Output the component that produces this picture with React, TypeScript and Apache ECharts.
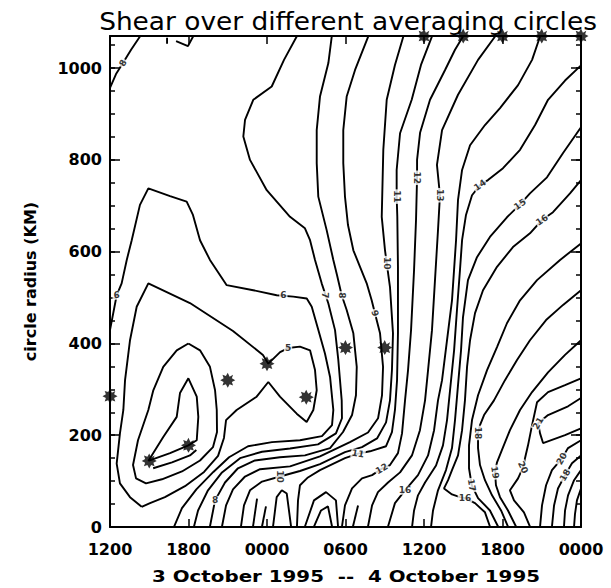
import React, { useEffect, useRef } from "react";
import * as echarts from "echarts";

// ---- axis tick labels ----
const timeTickLabels = ["1200", "1800", "0000", "0600", "1200", "1800", "0000"];

// ---- asterisk markers: hours since 1200 UTC 3 Oct, radius km ----
const asteriskHours = [0, 3, 6, 9, 12, 15, 18, 21, 24, 27, 30, 33, 36];
const asteriskRadii = [285, 144, 178, 320, 356, 283, 391, 391, 1070, 1070, 1070, 1070, 1070];

// ---- contour polylines [hour, radius km] ----
const topLeftA = [[0, 957], [0.46, 987], [0.99, 1011], [1.61, 1040], [2.29, 1069]];
const topLeftB = [[5.05, 1059], [5.96, 1048], [6.35, 1069]];
const topLeftC = [[4.36, 1066], [4.36, 1053]];

const contour6 = [[0, 429], [0.51, 505], [0.89, 531], [1.28, 582], [1.66, 625], [2.29, 702], [2.93, 738], [4.59, 721], [5.86, 709], [6.34, 680], [6.88, 625], [7.64, 582], [8.92, 527], [10.95, 516], [12.74, 505], [14.01, 502], [15.04, 498], [15.42, 480], [15.93, 429], [16.43, 378], [16.82, 327], [17.07, 255], [16.97, 222], [16.2, 198], [14.52, 189], [12.38, 185], [10.55, 176], [9.1, 152], [7.9, 120], [6.6, 82], [5.5, 41], [4.9, 1]];
const contour5 = [[2.42, 44], [1.53, 65], [0.76, 95], [0.51, 138], [0.76, 204], [1.02, 255], [1.15, 320], [1.53, 407], [2.04, 480], [2.93, 531], [6.11, 488], [9.4, 427], [11.69, 375], [12.1, 356], [13.0, 381], [13.61, 390], [14.52, 393], [15.29, 385], [15.67, 342], [15.8, 298], [15.54, 255], [15.03, 229], [14.27, 247], [12.99, 284], [12.1, 316], [11.21, 284], [9.68, 255], [8.87, 233], [8.71, 194], [8.26, 155], [7.19, 120], [5.73, 89], [4.2, 65], [3.06, 52], [2.42, 44]];
const contour4 = [[5.99, 400], [6.88, 385], [7.64, 349], [8.03, 298], [8.16, 255], [8.18, 207], [7.87, 174], [6.88, 145], [5.5, 121], [3.97, 104], [2.75, 95], [1.99, 106], [1.76, 135], [2.14, 189], [2.93, 255], [3.31, 298], [4.07, 349], [5.1, 385], [5.99, 400]];
const contour3 = [[2.93, 144], [3.19, 156], [4.07, 196], [5.1, 240], [5.35, 292], [5.99, 324], [6.63, 284], [6.75, 240], [6.63, 189], [5.99, 178], [4.59, 161], [2.93, 144]];
const contour2 = [[3.3, 128], [4.74, 141], [6.11, 156], [6.6, 168]];

const contour7 = [[14.27, 1069], [13.3, 1018], [12.36, 960], [10.95, 931], [10.32, 887], [10.19, 851], [10.7, 800], [11.98, 734], [13.76, 676], [14.9, 651], [15.29, 625], [15.67, 582], [16.18, 531], [16.69, 487], [17.2, 429], [17.45, 364], [17.71, 276], [17.73, 237], [17.27, 204], [15.9, 180], [13.76, 171], [11.62, 164], [9.94, 150], [8.56, 119], [7.49, 80], [6.73, 36], [6.42, 1]];
const contour8 = [[16.95, 1069], [16.69, 1011], [16.05, 938], [15.8, 865], [15.8, 793], [15.92, 720], [16.56, 647], [17.07, 582], [17.35, 549], [17.71, 505], [18.09, 473], [18.6, 422], [18.86, 349], [18.8, 287], [18.5, 244], [17.81, 207], [16.82, 172], [14.9, 156], [12.99, 152], [11.08, 145], [9.78, 128], [8.79, 97], [8.03, 58], [7.64, 1]];
const contour9 = [[19.74, 1069], [18.73, 996], [18.09, 938], [17.83, 865], [17.83, 793], [17.96, 720], [18.19, 658], [18.6, 603], [19.11, 567], [19.62, 531], [20.0, 494], [20.25, 466], [20.64, 422], [20.87, 349], [20.79, 287], [20.49, 237], [19.72, 206], [18.34, 185], [16.05, 154], [13.76, 132], [11.47, 126], [10.32, 110], [9.4, 82], [8.87, 47], [8.56, 1]];
const contour10 = [[22.42, 1069], [21.78, 1007], [21.15, 931], [20.89, 822], [20.77, 676], [21.02, 603], [21.15, 575], [21.4, 523], [21.63, 422], [21.55, 342], [21.4, 276], [21.1, 228], [20.41, 193], [19.26, 174], [17.96, 163], [16.05, 137], [14.52, 122], [12.99, 110], [11.62, 99], [10.7, 80], [10.24, 47], [10.01, 1]];
const contour11 = [[24.61, 1069], [23.77, 1007], [23.06, 931], [22.17, 858], [21.91, 778], [21.91, 720], [21.96, 676], [22.01, 567], [22.01, 422], [21.94, 320], [21.78, 255], [21.55, 207], [21.1, 176], [19.87, 165], [18.96, 160], [17.96, 150], [16.05, 124], [15.13, 108], [14.52, 91], [14.37, 58], [14.29, 1]];
const contour12 = [[26.98, 1069], [26.37, 1040], [25.61, 996], [24.46, 931], [23.7, 859], [23.47, 800], [23.47, 761], [23.39, 669], [23.24, 560], [23.01, 429], [22.78, 342], [22.55, 276], [22.32, 204], [22.01, 161], [21.4, 135], [20.77, 127], [20.03, 113], [19.26, 106], [18.5, 84], [17.96, 47], [17.73, 1]];
const contour13 = [[29.43, 1069], [28.13, 1018], [26.6, 942], [25.38, 865], [24.99, 789], [25.22, 723], [25.07, 647], [24.84, 538], [24.61, 429], [24.31, 342], [24.08, 276], [23.69, 211], [23.08, 156], [22.17, 119], [21.25, 97], [20.48, 76], [20.03, 47], [19.72, 1]];
const contour14 = [[32.87, 1069], [32.26, 1018], [31.19, 963], [29.81, 913], [28.66, 876], [27.52, 832], [26.91, 778], [26.6, 713], [26.45, 625], [26.14, 494], [25.76, 407], [25.38, 320], [25.07, 276], [24.77, 211], [24.31, 156], [23.54, 113], [22.55, 80], [21.78, 52], [21.25, 1]];

const diagonal14 = [[36, 1006], [34.78, 973], [33.48, 931], [32.49, 876], [31.34, 822], [30.04, 782], [28.89, 756], [28.28, 745], [27.67, 723], [27.21, 680], [26.91, 625], [26.75, 560], [26.52, 473], [26.3, 385], [25.99, 298], [25.76, 233], [25.45, 178], [24.92, 134], [24.08, 97], [23.54, 69], [23.24, 36], [23.09, 1]];
const diagonal15 = [[36, 871], [34.63, 815], [33.4, 762], [32.1, 727], [31.34, 703], [30.34, 675], [29.04, 632], [28.05, 588], [27.36, 538], [26.98, 457], [26.83, 385], [26.6, 309], [26.37, 233], [26.14, 172], [25.68, 124], [25.07, 80], [24.69, 36], [24.54, 1]];
const diagonal16 = [[36, 756], [35.16, 727], [33.86, 686], [33.02, 669], [32.1, 640], [30.8, 610], [29.58, 567], [28.51, 516], [27.9, 466], [27.52, 407], [27.29, 349], [27.13, 276], [26.91, 211], [26.6, 156], [26.14, 124], [25.84, 102], [25.53, 84], [26.14, 71], [26.75, 65], [27.13, 63], [27.9, 52], [28.66, 32], [29.04, 1]];
const diagonal17 = [[36, 618], [34.4, 582], [32.64, 538], [31.34, 494], [30.34, 444], [29.58, 392], [28.82, 342], [28.13, 287], [27.67, 233], [27.44, 178], [27.44, 128], [27.65, 91], [28.13, 63], [29.04, 36], [29.66, 1]];
const diagonal18 = [[36, 516], [34.63, 484], [33.33, 451], [32.1, 407], [31.11, 364], [30.19, 320], [29.35, 276], [28.59, 244], [28.28, 222], [28.13, 205], [28.13, 172], [28.28, 135], [28.66, 102], [29.2, 69], [29.89, 36], [30.42, 1]];
const diagonal19 = [[36, 407], [34.78, 375], [33.48, 337], [32.26, 294], [31.34, 255], [30.57, 211], [29.96, 168], [29.58, 141], [29.43, 119], [29.5, 91], [29.81, 65], [30.42, 36], [31.03, 1]];
const diagonal20 = [[36, 324], [34.78, 309], [33.48, 294], [32.64, 272], [32.26, 222], [31.95, 178], [31.72, 150], [31.57, 130], [31.19, 106], [30.57, 80], [30.88, 58], [31.64, 32], [32.1, 1]];
const loop21 = [[36, 281], [35.01, 263], [33.48, 244], [32.72, 226], [32.87, 204], [33.1, 183], [34.78, 200], [36, 215]];
const corner20 = [[36, 189], [35.01, 172], [34.53, 149], [33.78, 124], [33.33, 91], [33.02, 47], [32.87, 1]];
const corner18 = [[36, 156], [35.31, 139], [34.78, 113], [34.24, 84], [33.94, 47], [33.78, 1]];
const cornerC = [[36, 124], [35.47, 102], [35.01, 69], [34.78, 36], [34.7, 1]];
const cornerD = [[36, 84], [35.69, 58], [35.54, 28], [35.47, 1]];

const bottomPeakA = [[12.46, 1], [12.74, 65], [13.13, 80], [13.51, 73], [13.84, 1]];
const bottomPeakB = [[14.9, 1], [15.59, 58], [16.51, 76], [17.27, 58], [17.43, 1]];
const bottomPeakC = [[15.59, 1], [16.13, 36], [16.66, 45], [16.97, 1]];
const bottomStrokeA = [[10.93, 1], [11.24, 62]];
const bottomStrokeB = [[11.62, 1], [11.92, 45]];
const bottomStrokeC = [[18.57, 1], [18.96, 47]];

const contourLines = [
  topLeftA, topLeftB, topLeftC, contour6, contour5, contour4, contour3, contour2,
  contour7, contour8, contour9, contour10, contour11, contour12, contour13, contour14,
  diagonal14, diagonal15, diagonal16, diagonal17, diagonal18, diagonal19, diagonal20,
  loop21, corner20, corner18, cornerC, cornerD,
  bottomPeakA, bottomPeakB, bottomPeakC, bottomStrokeA, bottomStrokeB, bottomStrokeC,
];

// ---- contour value labels ----
const contourLabelPoints = [
  [0.99, 1011], [0.51, 505], [13.25, 505], [16.43, 505], [17.71, 505], [20.25, 466],
  [21.15, 575], [21.91, 720], [23.47, 761], [25.22, 723], [28.28, 745], [31.34, 703],
  [33.02, 669], [13.61, 390], [12.99, 110], [18.96, 160], [20.77, 127], [22.55, 80],
  [27.13, 63], [27.65, 91], [28.13, 205], [29.43, 119], [31.57, 130], [32.72, 226],
  [34.53, 149], [34.78, 113], [8.03, 58],
];
const contourLabelTexts = [
  "8", "6", "6", "7", "8", "9", "10", "11", "12", "13", "14", "15", "16", "5", "10",
  "11", "12", "16", "16", "17", "18", "19", "20", "21", "20", "18", "8",
];
const contourLabelAngles = [
  60, 0, 0, -90, -90, -75, -90, -90, -90, -90, 35, 35, 35, 0, -90,
  -10, 30, 0, 0, -80, -90, -80, -65, 60, 60, 60, 0,
];

const STAR =
  "path://M10 0 L12.5 5.5 L17.07 2.93 L15.5 7.5 L20 10 L15.5 12.5 L17.07 17.07 L12.5 15.5 L10 20 L7.5 15.5 L2.93 17.07 L4.5 12.5 L0 10 L4.5 7.5 L2.93 2.93 L7.5 4.5 Z";

const FONT = "DejaVu Sans";

export default function App() {
  const ref = useRef<HTMLDivElement>(null);

  useEffect(() => {
    if (!ref.current) return;
    const chart = echarts.init(ref.current, undefined, { renderer: "svg" });

    const axisLine = { show: true, onZero: false, lineStyle: { color: "#000", width: 2 } };
    const tickStyle = { color: "#000", width: 1.5 };

    const lineSeries = contourLines.map((pts) => ({
      type: "line",
      data: pts,
      showSymbol: false,
      symbol: "none",
      silent: true,
      lineStyle: { color: "#000", width: 1.9 },
      z: 2,
    }));

    const labelData = contourLabelPoints.map((p, i) => ({
      value: p,
      name: contourLabelTexts[i],
      label: { rotate: contourLabelAngles[i] },
    }));

    const starData = asteriskHours.map((h, i) => [h, asteriskRadii[i]]);

    chart.setOption({
      animation: false,
      backgroundColor: "#fff",
      grid: { left: 110, right: 30, top: 36, bottom: 61, containLabel: false },
      xAxis: [
        {
          type: "value",
          min: 0,
          max: 36,
          interval: 6,
          position: "bottom",
          axisLine,
          axisTick: { show: true, inside: true, length: 8, lineStyle: tickStyle },
          axisLabel: {
            formatter: (v: number) => timeTickLabels[Math.round(v / 6)] ?? "",
            color: "#000",
            fontSize: 16,
            fontWeight: "bold",
            fontFamily: FONT,
            margin: 14,
          },
          splitLine: { show: false },
        },
        {
          type: "value",
          min: 0,
          max: 36,
          interval: 6,
          position: "top",
          axisLine,
          axisTick: { show: true, inside: true, length: 8, lineStyle: tickStyle },
          axisLabel: { show: false },
          splitLine: { show: false },
        },
      ],
      yAxis: [
        {
          type: "value",
          min: 0,
          max: 1070,
          interval: 200,
          position: "left",
          axisLine,
          axisTick: { show: true, inside: true, length: 10, lineStyle: tickStyle },
          axisLabel: {
            formatter: (v: number) => (v % 200 === 0 ? String(v) : ""),
            showMaxLabel: false,
            color: "#000",
            fontSize: 16,
            fontWeight: "bold",
            fontFamily: FONT,
            margin: 8,
          },
          splitLine: { show: false },
          name: "circle radius (KM)",
          nameLocation: "middle",
          nameGap: 72,
          nameRotate: 90,
          nameTextStyle: { color: "#000", fontSize: 16, fontWeight: "bold", fontFamily: FONT },
        },
        {
          type: "value",
          min: 0,
          max: 1070,
          interval: 50,
          position: "left",
          axisLine: { show: false, onZero: false },
          axisTick: { show: true, inside: true, length: 5, lineStyle: tickStyle },
          axisLabel: { show: false },
          splitLine: { show: false },
        },
        {
          type: "value",
          min: 0,
          max: 1070,
          interval: 200,
          position: "right",
          axisLine,
          axisTick: { show: true, inside: true, length: 10, lineStyle: tickStyle },
          axisLabel: { show: false },
          splitLine: { show: false },
        },
        {
          type: "value",
          min: 0,
          max: 1070,
          interval: 50,
          position: "right",
          axisLine: { show: false, onZero: false },
          axisTick: { show: true, inside: true, length: 5, lineStyle: tickStyle },
          axisLabel: { show: false },
          splitLine: { show: false },
        },
      ],
      graphic: [
        {
          type: "text",
          x: 348,
          y: 10,
          scaleX: 1.1,
          style: {
            text: "Shear over different averaging circles",
            fontSize: 24,
            fontFamily: FONT,
            fill: "#000",
            align: "center",
            verticalAlign: "top",
          },
        },
        {
          type: "text",
          x: 346,
          y: 576,
          scaleX: 1.24,
          style: {
            text: "3 October 1995  --  4 October 1995",
            fontSize: 16,
            fontWeight: "bold",
            fontFamily: FONT,
            fill: "#000",
            align: "center",
            verticalAlign: "middle",
          },
        },
      ],
      series: [
        ...lineSeries,
        {
          type: "scatter",
          data: labelData,
          symbolSize: 1,
          silent: true,
          itemStyle: { color: "rgba(0,0,0,0)" },
          label: {
            show: true,
            position: "inside",
            formatter: (p: any) => p.name,
            color: "#000",
            fontSize: 9,
            fontWeight: "bold",
            fontFamily: FONT,
            backgroundColor: "#fff",
            padding: [0, 1],
          },
          z: 3,
        },
        {
          type: "scatter",
          data: starData,
          symbol: STAR,
          symbolSize: 15,
          clip: false,
          silent: true,
          itemStyle: { color: "#000" },
          z: 4,
        },
      ],
    });

    return () => chart.dispose();
  }, []);

  return <div ref={ref} style={{ width: 611, height: 588, position: "absolute", left: 0, top: 0 }} />;
}
